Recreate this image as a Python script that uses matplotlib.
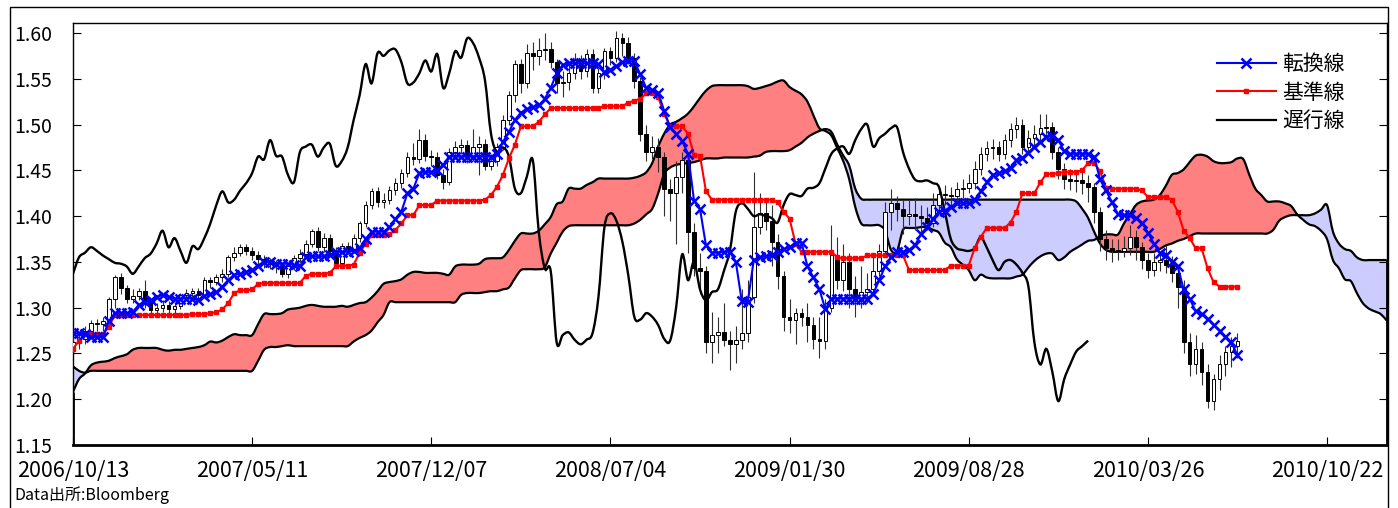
import numpy as np
import matplotlib.pyplot as plt
from matplotlib.lines import Line2D
from matplotlib.patches import Rectangle, PathPatch
from matplotlib.path import Path

plt.rcParams['font.family'] = ['Noto Sans CJK JP', 'DejaVu Sans']

# weekly bars, week 0 = 2006/10/13
tick_pos = [0, 30, 60, 90, 120, 150, 180, 210]
tick_labels = ['2006/10/13', '2007/05/11', '2007/12/07', '2008/07/04',
               '2009/01/30', '2009/08/28', '2010/03/26', '2010/10/22']

opens = [
    1.255, 1.262, 1.266, 1.275, 1.283, 1.282, 1.285, 1.310, 1.333, 1.322,
    1.310, 1.313, 1.318, 1.307, 1.297, 1.300, 1.303, 1.298, 1.302, 1.314,
    1.316, 1.318, 1.314, 1.330, 1.328, 1.333, 1.337, 1.355, 1.360, 1.366,
    1.362, 1.357, 1.353, 1.349, 1.348, 1.345, 1.337, 1.345, 1.354, 1.359,
    1.370, 1.384, 1.366, 1.376, 1.362, 1.349, 1.367, 1.364, 1.376, 1.392,
    1.412, 1.427, 1.415, 1.418, 1.428, 1.436, 1.447, 1.465, 1.462, 1.483,
    1.466, 1.465, 1.445, 1.437, 1.470, 1.476, 1.478, 1.465, 1.475, 1.479,
    1.455, 1.460, 1.475, 1.505, 1.532, 1.566, 1.545, 1.578, 1.575, 1.581,
    1.582, 1.568, 1.545, 1.546, 1.556, 1.570, 1.558, 1.577, 1.540, 1.556,
    1.580, 1.573, 1.594, 1.589, 1.573, 1.548, 1.490, 1.470, 1.475, 1.465,
    1.430, 1.425, 1.443, 1.461, 1.383, 1.343, 1.340, 1.262, 1.270, 1.273,
    1.265, 1.260, 1.265, 1.272, 1.312, 1.388, 1.403, 1.395, 1.372, 1.335,
    1.290, 1.287, 1.294, 1.290, 1.281, 1.266, 1.264, 1.300, 1.358, 1.330,
    1.350, 1.320, 1.308, 1.317, 1.320, 1.340, 1.362, 1.405, 1.414, 1.408,
    1.400, 1.402, 1.400, 1.398, 1.393, 1.412, 1.424, 1.423, 1.422, 1.430,
    1.431, 1.436, 1.452, 1.468, 1.474, 1.476, 1.468, 1.483, 1.495, 1.500,
    1.476, 1.485, 1.490, 1.496, 1.497, 1.470, 1.452, 1.440, 1.438, 1.439,
    1.436, 1.432, 1.405, 1.375, 1.365, 1.363, 1.362, 1.365, 1.377, 1.366,
    1.352, 1.341, 1.350, 1.352, 1.347, 1.338, 1.323, 1.262, 1.238, 1.255,
    1.230, 1.198, 1.222, 1.238, 1.252, 1.258,
]
highs = [
    1.268, 1.272, 1.280, 1.286, 1.288, 1.290, 1.312, 1.336, 1.338, 1.325,
    1.320, 1.322, 1.330, 1.310, 1.305, 1.308, 1.307, 1.306, 1.316, 1.320,
    1.321, 1.322, 1.333, 1.334, 1.337, 1.342, 1.358, 1.366, 1.369, 1.370,
    1.366, 1.362, 1.358, 1.354, 1.352, 1.348, 1.348, 1.358, 1.364, 1.374,
    1.386, 1.388, 1.382, 1.380, 1.366, 1.371, 1.372, 1.380, 1.395, 1.416,
    1.431, 1.432, 1.425, 1.433, 1.442, 1.452, 1.470, 1.480, 1.495, 1.490,
    1.472, 1.470, 1.452, 1.474, 1.482, 1.484, 1.483, 1.495, 1.488, 1.484,
    1.468, 1.480, 1.510, 1.537, 1.570, 1.572, 1.588, 1.590, 1.594, 1.600,
    1.590, 1.572, 1.558, 1.568, 1.578, 1.576, 1.582, 1.582, 1.562, 1.584,
    1.585, 1.602, 1.600, 1.596, 1.578, 1.552, 1.500, 1.488, 1.485, 1.470,
    1.440, 1.460, 1.470, 1.470, 1.392, 1.360, 1.345, 1.295, 1.290, 1.305,
    1.275, 1.280, 1.320, 1.330, 1.448, 1.425, 1.420, 1.412, 1.380, 1.340,
    1.310, 1.300, 1.300, 1.305, 1.290, 1.290, 1.310, 1.390, 1.377, 1.370,
    1.360, 1.335, 1.345, 1.338, 1.355, 1.370, 1.415, 1.430, 1.422, 1.418,
    1.418, 1.420, 1.412, 1.410, 1.425, 1.432, 1.434, 1.432, 1.437, 1.440,
    1.446, 1.460, 1.476, 1.482, 1.484, 1.482, 1.490, 1.502, 1.508, 1.506,
    1.494, 1.500, 1.512, 1.512, 1.503, 1.476, 1.458, 1.452, 1.450, 1.448,
    1.445, 1.436, 1.410, 1.385, 1.375, 1.375, 1.378, 1.390, 1.385, 1.372,
    1.360, 1.360, 1.362, 1.368, 1.356, 1.346, 1.330, 1.272, 1.270, 1.262,
    1.238, 1.228, 1.248, 1.258, 1.268, 1.272,
]
lows = [
    1.252, 1.255, 1.260, 1.270, 1.275, 1.274, 1.283, 1.300, 1.315, 1.305,
    1.305, 1.308, 1.300, 1.292, 1.292, 1.295, 1.293, 1.294, 1.298, 1.310,
    1.312, 1.309, 1.312, 1.322, 1.325, 1.328, 1.334, 1.351, 1.356, 1.358,
    1.352, 1.347, 1.343, 1.342, 1.338, 1.334, 1.332, 1.341, 1.349, 1.355,
    1.366, 1.362, 1.361, 1.356, 1.343, 1.346, 1.359, 1.360, 1.372, 1.388,
    1.408, 1.410, 1.409, 1.413, 1.423, 1.431, 1.443, 1.456, 1.458, 1.460,
    1.455, 1.440, 1.430, 1.434, 1.462, 1.468, 1.458, 1.460, 1.445, 1.450,
    1.450, 1.455, 1.472, 1.500, 1.525, 1.535, 1.540, 1.560, 1.565, 1.570,
    1.562, 1.535, 1.530, 1.538, 1.550, 1.550, 1.552, 1.535, 1.535, 1.550,
    1.565, 1.568, 1.575, 1.566, 1.540, 1.482, 1.460, 1.462, 1.448, 1.400,
    1.395, 1.370, 1.425, 1.360, 1.335, 1.320, 1.250, 1.240, 1.250, 1.258,
    1.232, 1.240, 1.255, 1.262, 1.305, 1.380, 1.385, 1.345, 1.320, 1.275,
    1.272, 1.260, 1.280, 1.262, 1.255, 1.245, 1.255, 1.295, 1.320, 1.318,
    1.300, 1.290, 1.300, 1.305, 1.316, 1.335, 1.355, 1.385, 1.395, 1.380,
    1.390, 1.385, 1.383, 1.385, 1.388, 1.405, 1.412, 1.410, 1.412, 1.420,
    1.425, 1.430, 1.445, 1.460, 1.462, 1.460, 1.462, 1.476, 1.485, 1.468,
    1.468, 1.476, 1.482, 1.484, 1.462, 1.440, 1.430, 1.428, 1.426, 1.424,
    1.415, 1.392, 1.362, 1.352, 1.350, 1.352, 1.355, 1.358, 1.352, 1.342,
    1.332, 1.335, 1.340, 1.338, 1.328, 1.300, 1.250, 1.225, 1.228, 1.215,
    1.190, 1.188, 1.210, 1.225, 1.235, 1.245,
]
closes = [
    1.262, 1.266, 1.275, 1.283, 1.282, 1.285, 1.310, 1.333, 1.322, 1.310,
    1.313, 1.318, 1.307, 1.297, 1.300, 1.303, 1.298, 1.302, 1.314, 1.316,
    1.318, 1.314, 1.330, 1.328, 1.333, 1.337, 1.355, 1.360, 1.366, 1.362,
    1.357, 1.353, 1.349, 1.348, 1.345, 1.337, 1.345, 1.354, 1.359, 1.370,
    1.384, 1.366, 1.376, 1.362, 1.349, 1.367, 1.364, 1.376, 1.392, 1.412,
    1.427, 1.415, 1.418, 1.428, 1.436, 1.447, 1.465, 1.462, 1.483, 1.466,
    1.465, 1.445, 1.437, 1.470, 1.476, 1.478, 1.465, 1.475, 1.479, 1.455,
    1.460, 1.475, 1.505, 1.532, 1.566, 1.545, 1.578, 1.575, 1.581, 1.582,
    1.568, 1.545, 1.546, 1.556, 1.570, 1.558, 1.577, 1.540, 1.556, 1.580,
    1.573, 1.594, 1.589, 1.573, 1.548, 1.490, 1.470, 1.475, 1.465, 1.430,
    1.425, 1.443, 1.461, 1.383, 1.343, 1.340, 1.262, 1.270, 1.273, 1.265,
    1.260, 1.265, 1.272, 1.312, 1.388, 1.403, 1.395, 1.372, 1.335, 1.290,
    1.287, 1.294, 1.290, 1.281, 1.266, 1.264, 1.300, 1.358, 1.330, 1.350,
    1.320, 1.308, 1.317, 1.320, 1.340, 1.362, 1.405, 1.414, 1.408, 1.400,
    1.402, 1.400, 1.398, 1.393, 1.412, 1.424, 1.423, 1.422, 1.430, 1.431,
    1.436, 1.452, 1.468, 1.474, 1.476, 1.468, 1.483, 1.495, 1.500, 1.476,
    1.485, 1.490, 1.496, 1.497, 1.470, 1.452, 1.440, 1.438, 1.439, 1.436,
    1.432, 1.405, 1.375, 1.365, 1.363, 1.362, 1.365, 1.377, 1.366, 1.352,
    1.341, 1.350, 1.352, 1.347, 1.338, 1.323, 1.262, 1.238, 1.255, 1.230,
    1.198, 1.222, 1.238, 1.252, 1.258, 1.264,
]

# 転換線
tenkan = [
    1.272, 1.272, 1.271, 1.268, 1.268, 1.268, 1.285, 1.294, 1.294, 1.294,
    1.295, 1.303, 1.306, 1.308, 1.312, 1.314, 1.312, 1.310, 1.310, 1.310,
    1.310, 1.308, 1.313, 1.315, 1.317, 1.323, 1.330, 1.336, 1.337, 1.339,
    1.341, 1.346, 1.350, 1.350, 1.348, 1.348, 1.348, 1.347, 1.345, 1.355,
    1.356, 1.356, 1.356, 1.357, 1.361, 1.361, 1.361, 1.362, 1.365, 1.375,
    1.383, 1.383, 1.383, 1.388, 1.397, 1.405, 1.425, 1.430, 1.447, 1.448,
    1.448, 1.450, 1.456, 1.465, 1.465, 1.465, 1.465, 1.465, 1.465, 1.465,
    1.465, 1.468, 1.481, 1.492, 1.505, 1.513, 1.517, 1.519, 1.521, 1.528,
    1.540, 1.556, 1.565, 1.567, 1.567, 1.567, 1.567, 1.567, 1.566, 1.557,
    1.560, 1.564, 1.568, 1.569, 1.569, 1.555, 1.540, 1.538, 1.535, 1.515,
    1.497, 1.490, 1.482, 1.468, 1.417, 1.408, 1.368, 1.360, 1.360, 1.361,
    1.361, 1.350, 1.307, 1.306, 1.352, 1.355, 1.356, 1.357, 1.361, 1.364,
    1.366, 1.371, 1.371, 1.345, 1.333, 1.320, 1.298, 1.310, 1.310, 1.310,
    1.310, 1.310, 1.310, 1.310, 1.315, 1.330, 1.345, 1.355, 1.361, 1.361,
    1.363, 1.368, 1.380, 1.388, 1.397, 1.405, 1.406, 1.410, 1.414, 1.414,
    1.414, 1.418, 1.427, 1.437, 1.445, 1.447, 1.449, 1.453, 1.461, 1.464,
    1.469, 1.476, 1.481, 1.486, 1.488, 1.483, 1.471, 1.468, 1.468, 1.468,
    1.468, 1.465, 1.440, 1.428, 1.415, 1.402, 1.401, 1.401, 1.398, 1.393,
    1.382, 1.370, 1.360, 1.357, 1.350, 1.345, 1.320, 1.310, 1.296, 1.293,
    1.288, 1.281, 1.275, 1.268, 1.262, 1.248,
]
# 基準線
kijun = [
    1.255, 1.264, 1.271, 1.271, 1.271, 1.271, 1.279, 1.292, 1.292, 1.292,
    1.292, 1.292, 1.292, 1.292, 1.292, 1.292, 1.292, 1.292, 1.292, 1.292,
    1.293, 1.293, 1.293, 1.294, 1.295, 1.298, 1.305, 1.316, 1.319, 1.319,
    1.320, 1.326, 1.327, 1.327, 1.327, 1.327, 1.327, 1.327, 1.327, 1.335,
    1.337, 1.337, 1.337, 1.338, 1.345, 1.346, 1.346, 1.347, 1.360, 1.370,
    1.379, 1.379, 1.379, 1.380, 1.385, 1.392, 1.401, 1.401, 1.412, 1.412,
    1.412, 1.417, 1.417, 1.417, 1.417, 1.417, 1.417, 1.417, 1.417, 1.418,
    1.423, 1.432, 1.445, 1.463, 1.478, 1.498, 1.498, 1.498, 1.503, 1.511,
    1.518, 1.518, 1.518, 1.518, 1.518, 1.518, 1.518, 1.518, 1.518, 1.520,
    1.520, 1.520, 1.520, 1.524, 1.526, 1.528, 1.534, 1.534, 1.530, 1.512,
    1.498, 1.498, 1.498, 1.490, 1.467, 1.466, 1.427, 1.418, 1.418, 1.418,
    1.418, 1.418, 1.418, 1.418, 1.418, 1.418, 1.418, 1.418, 1.415, 1.405,
    1.397, 1.370, 1.361, 1.361, 1.361, 1.361, 1.361, 1.361, 1.355, 1.354,
    1.354, 1.354, 1.354, 1.357, 1.357, 1.357, 1.357, 1.357, 1.357, 1.357,
    1.341, 1.341, 1.341, 1.341, 1.341, 1.341, 1.341, 1.346, 1.346, 1.346,
    1.346, 1.365, 1.377, 1.387, 1.387, 1.387, 1.387, 1.393, 1.405, 1.425,
    1.425, 1.425, 1.437, 1.446, 1.446, 1.447, 1.448, 1.448, 1.448, 1.450,
    1.458, 1.458, 1.449, 1.431, 1.430, 1.430, 1.430, 1.430, 1.430, 1.428,
    1.421, 1.421, 1.421, 1.421, 1.418, 1.405, 1.384, 1.376, 1.365, 1.365,
    1.343, 1.328, 1.323, 1.323, 1.323, 1.323,
]
# 先行スパン (plotted 25 weeks ahead, so 221 points)
span_a = [
    1.208, 1.222, 1.228, 1.237, 1.240, 1.241, 1.242, 1.245, 1.247, 1.249,
    1.254, 1.256, 1.256, 1.256, 1.256, 1.254, 1.253, 1.254, 1.254, 1.255,
    1.256, 1.257, 1.259, 1.263, 1.262, 1.264, 1.268, 1.271, 1.270, 1.270,
    1.270, 1.282, 1.293, 1.293, 1.293, 1.294, 1.298, 1.299, 1.300, 1.302,
    1.303, 1.302, 1.301, 1.301, 1.301, 1.302, 1.301, 1.303, 1.305, 1.306,
    1.311, 1.318, 1.326, 1.328, 1.329, 1.331, 1.336, 1.339, 1.339, 1.338,
    1.338, 1.338, 1.337, 1.336, 1.345, 1.347, 1.347, 1.347, 1.348, 1.353,
    1.354, 1.354, 1.355, 1.363, 1.373, 1.381, 1.381, 1.381, 1.384, 1.391,
    1.399, 1.413, 1.416, 1.430, 1.430, 1.430, 1.434, 1.437, 1.441, 1.441,
    1.441, 1.441, 1.441, 1.441, 1.442, 1.444, 1.448, 1.458, 1.476, 1.490,
    1.500, 1.503, 1.507, 1.512, 1.520, 1.529, 1.537, 1.542, 1.543, 1.543,
    1.543, 1.543, 1.543, 1.542, 1.539, 1.540, 1.542, 1.544, 1.547, 1.548,
    1.541, 1.537, 1.533, 1.525, 1.510, 1.496, 1.493, 1.488, 1.474, 1.460,
    1.440, 1.410, 1.392, 1.390, 1.390, 1.390, 1.384, 1.363, 1.362, 1.385,
    1.387, 1.387, 1.388, 1.388, 1.385, 1.382, 1.371, 1.366, 1.353, 1.347,
    1.341, 1.330, 1.336, 1.333, 1.332, 1.332, 1.332, 1.332, 1.334, 1.336,
    1.344, 1.351, 1.356, 1.359, 1.359, 1.352, 1.355, 1.361, 1.365, 1.369,
    1.373, 1.374, 1.378, 1.380, 1.380, 1.380, 1.392, 1.402, 1.412, 1.416,
    1.417, 1.418, 1.423, 1.433, 1.445, 1.447, 1.451, 1.459, 1.466, 1.467,
    1.465, 1.460, 1.458, 1.458, 1.459, 1.463, 1.462, 1.445, 1.430, 1.423,
    1.416, 1.416, 1.416, 1.414, 1.411, 1.402, 1.396, 1.391, 1.389, 1.384,
    1.375, 1.352, 1.343, 1.331, 1.329, 1.316, 1.305, 1.299, 1.296, 1.293,
    1.286,
]
span_b = [
    1.236, 1.231, 1.229, 1.231, 1.231, 1.231, 1.231, 1.231, 1.231, 1.231,
    1.231, 1.231, 1.231, 1.231, 1.231, 1.231, 1.231, 1.231, 1.231, 1.231,
    1.231, 1.231, 1.231, 1.231, 1.231, 1.231, 1.231, 1.231, 1.231, 1.231,
    1.231, 1.242, 1.254, 1.257, 1.257, 1.258, 1.259, 1.258, 1.258, 1.258,
    1.258, 1.258, 1.258, 1.258, 1.258, 1.258, 1.258, 1.263, 1.267, 1.270,
    1.275, 1.284, 1.292, 1.306, 1.306, 1.306, 1.306, 1.306, 1.306, 1.306,
    1.306, 1.306, 1.306, 1.306, 1.306, 1.314, 1.316, 1.316, 1.316, 1.317,
    1.318, 1.318, 1.320, 1.322, 1.332, 1.341, 1.342, 1.342, 1.342, 1.344,
    1.359, 1.371, 1.383, 1.389, 1.390, 1.390, 1.390, 1.390, 1.390, 1.390,
    1.390, 1.390, 1.390, 1.390, 1.392, 1.396, 1.402, 1.408, 1.425, 1.446,
    1.453, 1.456, 1.457, 1.458, 1.459, 1.461, 1.463, 1.463, 1.463, 1.464,
    1.464, 1.464, 1.464, 1.464, 1.465, 1.466, 1.470, 1.471, 1.471, 1.471,
    1.472, 1.476, 1.480, 1.486, 1.490, 1.493, 1.495, 1.492, 1.478, 1.466,
    1.455, 1.430, 1.419, 1.418, 1.418, 1.418, 1.418, 1.418, 1.418, 1.418,
    1.418, 1.418, 1.418, 1.418, 1.418, 1.418, 1.418, 1.418, 1.418, 1.418,
    1.418, 1.418, 1.418, 1.418, 1.418, 1.418, 1.418, 1.418, 1.418, 1.418,
    1.418, 1.418, 1.418, 1.418, 1.418, 1.418, 1.418, 1.418, 1.416, 1.408,
    1.398, 1.383, 1.370, 1.363, 1.361, 1.361, 1.361, 1.361, 1.361, 1.361,
    1.361, 1.361, 1.364, 1.368, 1.370, 1.373, 1.375, 1.378, 1.381, 1.381,
    1.381, 1.381, 1.381, 1.381, 1.381, 1.381, 1.381, 1.381, 1.381, 1.381,
    1.381, 1.385, 1.395, 1.399, 1.401, 1.401, 1.401, 1.401, 1.403, 1.407,
    1.412, 1.383, 1.370, 1.364, 1.362, 1.355, 1.352, 1.352, 1.352, 1.352,
    1.352,
]
lag = 25  # 遅行線 shift


def smooth_path(xv, yv):
    # smoothed polyline (cubic bezier through every point)
    p = np.column_stack([xv, yv]).astype(float)
    ext = np.vstack([p[0], p, p[-1]])
    verts = [p[0]]
    codes = [Path.MOVETO]
    for i in range(len(p) - 1):
        p0, p1, p2, p3 = ext[i], ext[i + 1], ext[i + 2], ext[i + 3]
        verts += [p1 + (p2 - p0) / 6, p2 - (p3 - p1) / 6, p2]
        codes += [Path.CURVE4] * 3
    return Path(verts, codes)


o = np.array(opens)
h = np.array(highs)
l = np.array(lows)
c = np.array(closes)
x = np.arange(len(c))
sa = np.array(span_a)
sb = np.array(span_b)
xs = np.arange(len(sa))

fig = plt.figure(figsize=(13.98, 5.08), dpi=100)
ax = fig.add_axes([73 / 1398, 1 - 445 / 508, 1313.7 / 1398, 421.7 / 508])

# cloud
ax.fill_between(xs, sa, sb, where=sa >= sb, interpolate=True,
                color='#ff8080', lw=0, zorder=1)
ax.fill_between(xs, sa, sb, where=sa < sb, interpolate=True,
                color='#ccccff', lw=0, zorder=1)
for s in (sa, sb):
    ax.add_patch(PathPatch(smooth_path(xs, s), fill=False, ec='black',
                           lw=1.6, zorder=2))
ax.vlines([xs[0]], 1.15, sa[0], color='black', lw=2, zorder=2)
ax.vlines([xs[-1]], 1.15, sb[-1], color='black', lw=2, zorder=2)

# candles
up = c >= o
ax.vlines(x, l, h, color='#303030', lw=0.8, zorder=3)
body = np.maximum(np.abs(c - o), 0.0012)
ax.bar(x, body, bottom=np.minimum(o, c), width=0.62,
       color=np.where(up, 'white', 'black'), edgecolor='black',
       linewidth=0.7, zorder=3.5)

# 遅行線
ax.add_patch(PathPatch(smooth_path(x[:-lag], c[lag:]), fill=False,
                       ec='black', lw=1.7, zorder=4))
ax.plot(x, kijun, color='red', lw=1.5, marker='s', ms=3,
        mec='red', zorder=5)
ax.plot(x, tenkan, color='blue', lw=1.5, marker='x', ms=6.5,
        mew=1.8, zorder=6)

ax.set_xlim(0, 220)
ax.set_ylim(1.15, 1.6106)
ax.set_yticks(np.arange(1.15, 1.6001, 0.05))
ax.yaxis.set_major_formatter(plt.FormatStrFormatter('%.2f'))
ax.set_xticks(tick_pos)
ax.set_xticklabels(tick_labels, fontsize=15.5)
ax.tick_params(axis='y', direction='in', right=True, length=6,
               labelsize=14, pad=15)
ax.tick_params(axis='x', direction='in', length=6, pad=11)
for s in ['left', 'top', 'right']:
    ax.spines[s].set_linewidth(1.0)
ax.spines['bottom'].set_linewidth(2.0)

handles = [
    Line2D([], [], color='blue', lw=1.5, marker='x', ms=7, mew=1.8),
    Line2D([], [], color='red', lw=1.5, marker='s', ms=3.5),
    Line2D([], [], color='black', lw=1.6),
]
ax.legend(handles, ['転換線', '基準線', '遅行線'], loc='upper left',
          bbox_to_anchor=(0.871, 0.93), frameon=False, fontsize=15,
          handlelength=2.8, handletextpad=0.3, labelspacing=0.32,
          borderaxespad=0, borderpad=0)

fig.text(14 / 1398, 1 - 495 / 508, 'Data出所:Bloomberg', fontsize=11.5,
         va='center', ha='left')
fig.patches.append(Rectangle((10 / 1398, -0.01), 1378 / 1398,
                             1.01 - 7 / 508, transform=fig.transFigure,
                             fill=False, lw=1.0, ec='black'))

fig.savefig('out.png', dpi=100)
